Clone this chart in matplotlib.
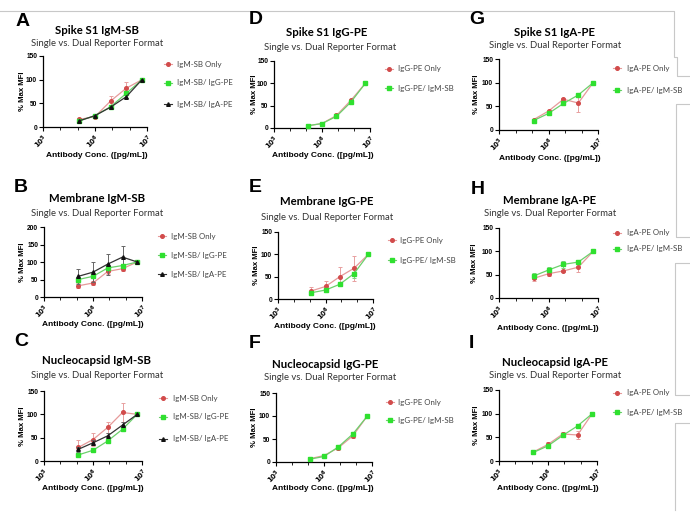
import matplotlib
matplotlib.use("Agg")
import matplotlib.pyplot as plt
import numpy as np
from matplotlib.lines import Line2D

W, H = 690, 524
fig = plt.figure(figsize=(W / 100, H / 100), dpi=100)

# ---------------- data ----------------
conc = [5e5, 1e6, 2e6, 4e6, 8e6]
xticks = [1e5, 1e6, 1e7]
xticklabels = [r"$\mathbf{10^5}$", r"$\mathbf{10^6}$", r"$\mathbf{10^7}$"]

letters = ["A", "D", "G", "B", "E", "H", "C", "F", "I"]
titles = ["Spike S1 IgM-SB", "Spike S1 IgG-PE", "Spike S1 IgA-PE",
          "Membrane IgM-SB", "Membrane IgG-PE", "Membrane IgA-PE",
          "Nucleocapsid IgM-SB", "Nucleocapsid IgG-PE", "Nucleocapsid IgA-PE"]
subtitle = "Single vs. Dual Reporter Format"
xlabel = "Antibody Conc. ([pg/mL])"
ylabel = "% Max MFI"
ymaxes = [150, 150, 150, 200, 150, 150, 150, 150, 150]

legend_m = ["IgM-SB Only", "IgM-SB/ IgG-PE", "IgM-SB/ IgA-PE"]
legend_g = ["IgG-PE Only", "IgG-PE/ IgM-SB"]
legend_a = ["IgA-PE Only", "IgA-PE/ IgM-SB"]

# Spike S1 IgM-SB
A_red = [16, 22, 55, 82, 100];   A_red_err = [3, 2, 11, 14, 0]
A_green = [13, 24, 43, 71, 100]; A_green_err = [2, 2, 3, 3, 0]
A_black = [13, 24, 42, 64, 100]; A_black_err = [1, 1, 2, 3, 0]
# Membrane IgM-SB
B_red = [32, 40, 73, 81, 100];   B_red_err = [7, 5, 8, 8, 0]
B_green = [50, 59, 83, 90, 100]; B_green_err = [6, 5, 5, 5, 0]
B_black = [59, 71, 94, 114, 100]; B_black_err = [22, 29, 30, 31, 0]
# Nucleocapsid IgM-SB
C_red = [29, 46, 72, 104, 100];  C_red_err = [15, 13, 12, 20, 0]
C_green = [13, 23, 43, 68, 100]; C_green_err = [3, 3, 4, 4, 0]
C_black = [25, 39, 54, 77, 100]; C_black_err = [5, 5, 6, 6, 0]
# Spike S1 IgG-PE
D_red = [5, 10, 28, 62, 100];    D_red_err = [1, 1, 3, 3, 0]
D_green = [5, 10, 26, 58, 100];  D_green_err = [1, 1, 2, 3, 0]
# Membrane IgG-PE
E_red = [18, 28, 50, 69, 100];   E_red_err = [8, 13, 21, 28, 0]
E_green = [14, 20, 33, 57, 100]; E_green_err = [3, 3, 4, 10, 0]
# Nucleocapsid IgG-PE
F_red = [7, 14, 31, 57, 100];    F_red_err = [1, 2, 5, 4, 0]
F_green = [6, 12, 33, 61, 100];  F_green_err = [1, 2, 3, 3, 0]
# Spike S1 IgA-PE
G_red = [22, 40, 65, 57, 100];   G_red_err = [2, 2, 2, 19, 0]
G_green = [20, 35, 56, 74, 100]; G_green_err = [2, 2, 2, 2, 0]
# Membrane IgA-PE
H_red = [42, 52, 58, 66, 100];   H_red_err = [5, 4, 3, 11, 0]
H_green = [47, 60, 72, 77, 100]; H_green_err = [6, 6, 8, 3, 0]
# Nucleocapsid IgA-PE
I_red = [19, 35, 57, 55, 100];   I_red_err = [3, 5, 4, 9, 0]
I_green = [18, 32, 54, 74, 100]; I_green_err = [3, 3, 3, 3, 0]

series = {
    "A": [(A_red, A_red_err), (A_green, A_green_err), (A_black, A_black_err)],
    "B": [(B_red, B_red_err), (B_green, B_green_err), (B_black, B_black_err)],
    "C": [(C_red, C_red_err), (C_green, C_green_err), (C_black, C_black_err)],
    "D": [(D_red, D_red_err), (D_green, D_green_err)],
    "E": [(E_red, E_red_err), (E_green, E_green_err)],
    "F": [(F_red, F_red_err), (F_green, F_green_err)],
    "G": [(G_red, G_red_err), (G_green, G_green_err)],
    "H": [(H_red, H_red_err), (H_green, H_green_err)],
    "I": [(I_red, I_red_err), (I_green, I_green_err)],
}
legends = {"A": legend_m, "B": legend_m, "C": legend_m,
           "D": legend_g, "E": legend_g, "F": legend_g,
           "G": legend_a, "H": legend_a, "I": legend_a}

# ---------------- layout (pixels) ----------------
layout = {
    "A": dict(box=(43, 147, 56, 127), let=(16, 22), tit=(97, 30), sub=(97, 44), xl=(97, 155), yl=22, leg=(168, 177, [64, 83, 104])),
    "D": dict(box=(274, 370, 61, 128), let=(249, 20), tit=(327, 33), sub=(330, 47), xl=(323, 155), yl=254, leg=(389, 398, [69, 88])),
    "G": dict(box=(499, 598, 59, 130), let=(469, 20), tit=(555, 32), sub=(555, 45), xl=(550, 158), yl=476, leg=(617, 627, [68, 90])),
    "B": dict(box=(44, 142, 227, 297), let=(14, 188), tit=(97, 198), sub=(97, 213), xl=(93, 325), yl=22, leg=(162, 171, [236, 255, 274])),
    "E": dict(box=(278, 373, 232, 299), let=(249, 188), tit=(327, 202), sub=(327, 217), xl=(325, 327), yl=257, leg=(392, 400, [240, 260])),
    "H": dict(box=(499, 598, 228, 298), let=(471, 189), tit=(550, 200), sub=(550, 213), xl=(548, 328), yl=475, leg=(617, 627, [233, 249])),
    "C": dict(box=(44, 142, 391, 461), let=(14, 342), tit=(97, 361), sub=(97, 375), xl=(93, 489), yl=22, leg=(163, 173, [398, 417, 439])),
    "F": dict(box=(276, 372, 393, 462), let=(249, 343), tit=(325, 364), sub=(330, 378), xl=(323, 488), yl=254, leg=(390, 398, [402, 420])),
    "I": dict(box=(499, 597, 390, 461), let=(469, 343), tit=(555, 362), sub=(555, 375), xl=(548, 489), yl=476, leg=(617, 627, [393, 412])),
}

styles = [
    dict(mc="#d24b4b", lc="#e69a9a", ec="#e8a0a0", marker="o"),
    dict(mc="#2fe02f", lc="#6ccf6c", ec="#7fd07f", marker="s"),
    dict(mc="#111111", lc="#333333", ec="#666666", marker="^"),
]

TXT = "Lato"

def fx(x):
    return x / W

def fy(y):
    return 1 - y / H

minor = []
for d in (5, 6):
    minor += [10 ** (d + 1 / 3), 10 ** (d + 2 / 3)]

for i, key in enumerate(letters):
    L = layout[key]
    l, r, t, b = L["box"]
    ax = fig.add_axes([fx(l), fy(b), (r - l) / W, (b - t) / H])
    ax.set_xscale("log")
    ax.set_xlim(1e5, 1e7)
    ymax = ymaxes[i]
    ax.set_ylim(0, ymax)
    for s in ("top", "right"):
        ax.spines[s].set_visible(False)
    for s in ("left", "bottom"):
        ax.spines[s].set_linewidth(0.9)
    ax.set_xticks(xticks)
    ax.set_xticklabels(xticklabels, rotation=45, ha="right", va="top",
                       rotation_mode="anchor", fontsize=5)
    ax.set_xticks(minor, minor=True)
    ax.set_xticklabels([], minor=True)
    ax.set_yticks(np.arange(0, ymax + 1, 50))
    ax.set_yticklabels([str(v) for v in np.arange(0, ymax + 1, 50)],
                       fontsize=4.8, fontweight="bold", family="Liberation Sans")
    ax.tick_params(axis="both", which="major", length=3, width=0.8, pad=1.2)
    ax.tick_params(axis="x", which="minor", length=2, width=0.6)
    ax.patch.set_alpha(0)

    for j, (vals, errs) in enumerate(series[key]):
        st = styles[j]
        ax.errorbar(conc, vals, yerr=errs, fmt="none", ecolor=st["ec"],
                    elinewidth=0.7, capsize=1.6, capthick=0.7, zorder=2 + j)
        ax.plot(conc, vals, color=st["lc"], lw=0.9, zorder=3 + j)
        ax.plot(conc, vals, ls="none", marker=st["marker"], ms=2.6,
                color=st["mc"], mec=st["mc"], zorder=4 + j, clip_on=False)

    fig.text(fx(L["let"][0]), fy(L["let"][1]), key, fontsize=14, fontweight="bold",
             family="Liberation Sans", ha="left", va="center")
    fig.text(fx(L["tit"][0]), fy(L["tit"][1]), titles[i], fontsize=8.2, fontweight="bold",
             family=TXT, ha="center", va="center")
    fig.text(fx(L["sub"][0]), fy(L["sub"][1]), subtitle, fontsize=6.8,
             family=TXT, ha="center", va="center", color="#333333")
    fig.text(fx(L["xl"][0]), fy(L["xl"][1]), xlabel, fontsize=6.0, fontweight="bold",
             family="Liberation Sans", ha="center", va="center")
    fig.text(fx(L["yl"]), fy((t + b) / 2), ylabel, fontsize=5.6, fontweight="bold",
             family="Liberation Sans", ha="center", va="center", rotation=90)

    mx, tx, ys = L["leg"]
    for j, lab in enumerate(legends[key]):
        st = styles[j]
        y = fy(ys[j])
        fig.add_artist(Line2D([fx(mx - 4), fx(mx + 4)], [y, y], color=st["lc"], lw=0.8,
                              transform=fig.transFigure))
        fig.add_artist(Line2D([fx(mx)], [y], ls="none", marker=st["marker"], ms=2.6,
                              color=st["mc"], transform=fig.transFigure))
        fig.text(fx(tx), y, lab, fontsize=5.7, family=TXT, ha="left", va="center",
                 color="#444444")

# screenshot frame lines
gray = "#c8c8c8"
segs = [
    [(0, 11), (674, 11), (674, 57), (677, 57), (677, 76), (690, 76)],
    [(690, 104), (676, 104), (676, 237), (690, 237)],
    [(690, 263), (675, 263), (675, 395), (690, 395)],
    [(690, 423), (675, 423), (675, 510)],
]
for seg in segs:
    xs = [fx(p[0]) for p in seg]
    ysg = [fy(p[1]) for p in seg]
    fig.add_artist(Line2D(xs, ysg, color=gray, lw=0.8, transform=fig.transFigure))

fig.savefig("out.png", dpi=100)
